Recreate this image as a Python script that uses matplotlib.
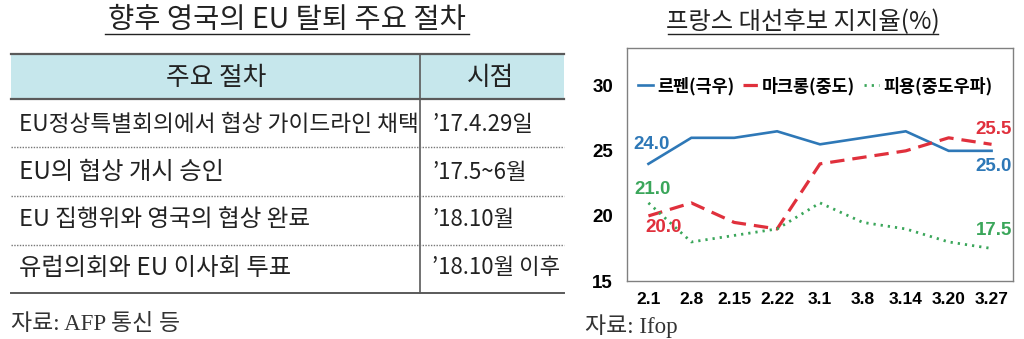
import matplotlib
matplotlib.use("Agg")
import matplotlib.pyplot as plt
from matplotlib.lines import Line2D

plt.rcParams['font.family'] = ['Noto Sans CJK KR', 'DejaVu Sans']

# ---------------- data ----------------
table_title = "향후 영국의 EU 탈퇴 주요 절차"
table_header = ["주요 절차", "시점"]
steps = ["EU정상특별회의에서 협상 가이드라인 채택",
         "EU의 협상 개시 승인",
         "EU 집행위와 영국의 협상 완료",
         "유럽의회와 EU 이사회 투표"]
timing = ["’17.4.29일", "’17.5~6월", "’18.10월", "’18.10월 이후"]
table_source = "자료: AFP 통신 등"

chart_title = "프랑스 대선후보 지지율(%)"
dates = ["2.1", "2.8", "2.15", "2.22", "3.1", "3.8", "3.14", "3.20", "3.27"]
lepen = [24.0, 26.0, 26.0, 26.5, 25.5, 26.0, 26.5, 25.0, 25.0]
macron = [20.0, 21.0, 19.5, 19.0, 24.0, 24.5, 25.0, 26.0, 25.5]
fillon = [21.0, 18.0, 18.5, 19.0, 21.0, 19.5, 19.0, 18.0, 17.5]
series_names = ["르펜(극우)", "마크롱(중도)", "피용(중도우파)"]
yticks = [15, 20, 25, 30]
chart_source = "자료: Ifop"

# ---------------- figure ----------------
W, H = 1024, 339
fig = plt.figure(figsize=(W / 100, H / 100), dpi=100)

def fx(x):
    return x / W

def fy(y):
    return 1 - y / H

def hline(x0, x1, y, **kw):
    fig.add_artist(Line2D([fx(x0), fx(x1)], [fy(y), fy(y)], transform=fig.transFigure, **kw))

def vline(x, y0, y1, **kw):
    fig.add_artist(Line2D([fx(x), fx(x)], [fy(y0), fy(y1)], transform=fig.transFigure, **kw))

txt_color = "#222222"
line_color = "#5a5a5a"

# table title
fig.text(fx(287), fy(20), table_title, ha="center", va="center", fontsize=20.5, color=txt_color)
hline(105, 469, 34, color=txt_color, lw=1.0)

# table
tl, tr, tdiv = 11, 564, 420
fig.add_artist(plt.Rectangle((fx(tl), fy(99)), fx(tr) - fx(tl), fy(54) - fy(99),
                             transform=fig.transFigure, facecolor="#c6e7ec", edgecolor="none"))
hline(tl, tr, 54, color=line_color, lw=1.6)
hline(tl, tr, 99, color=line_color, lw=1.6)
hline(tl, tr, 293, color=line_color, lw=1.4)
vline(tdiv, 54, 293, color=line_color, lw=1.2)
for yy in [147, 196, 245]:
    hline(tl, tr, yy, color="#777777", lw=1.0, linestyle=(0, (1, 1)))

fig.text(fx(216), fy(78), table_header[0], ha="center", va="center", fontsize=18.5, color=txt_color)
fig.text(fx(491), fy(78), table_header[1], ha="center", va="center", fontsize=18.5, color=txt_color)
row_y = [124, 172, 220, 268]
row_fs = [16.3, 17.5, 17.0, 17.5]
for s, t, yy, fs in zip(steps, timing, row_y, row_fs):
    fig.text(fx(19), fy(yy), s, ha="left", va="center", fontsize=fs, color=txt_color)
    fig.text(fx(432), fy(yy), t, ha="left", va="center", fontsize=16, color=txt_color)

fig.text(fx(11), fy(324), table_source, ha="left", va="center", fontsize=16.5, color="#333333",
         family=['Liberation Serif', 'Noto Sans CJK KR'])

# ---------------- chart ----------------
ax = fig.add_axes([fx(627), fy(281), fx(1013) - fx(627), fy(48) - fy(281)])
x = list(range(len(dates)))
c_blue, c_red, c_green = "#2e78b7", "#e0303c", "#3aa65a"
ax.plot(x, lepen, color=c_blue, lw=1.9, solid_joinstyle="miter", label=series_names[0])
ax.plot(x, macron, color=c_red, lw=2.3, linestyle=(0, (4.5, 2.5)), label=series_names[1])
ax.plot(x, fillon, color=c_green, lw=2.0, linestyle=(0, (0.8, 1.8)), label=series_names[2])

ax.set_xlim(-0.5, len(dates) - 0.5)
ax.set_ylim(15, 32.9)
ax.set_yticks(yticks)
ax.set_yticklabels([str(v) for v in yticks], fontsize=13.5, fontweight="bold", family="Liberation Sans")
ax.set_xticks(x)
ax.set_xticklabels(dates, fontsize=12.5, fontweight="bold", family="Liberation Sans")
ax.tick_params(axis="both", length=0)
ax.tick_params(axis="y", pad=10)
ax.tick_params(axis="x", pad=8)
for sp in ax.spines.values():
    sp.set_color("#808080")
    sp.set_linewidth(1.0)

def lab(xi, yv, text, color, dx, dy):
    ax.annotate(text, (xi, yv), xytext=(dx, dy), textcoords="offset points",
                ha="center", va="center", fontsize=13.5, fontweight="bold",
                color=color, family="Liberation Sans")

lab(0, lepen[0], f"{lepen[0]:.1f}", c_blue, 2, 14)
lab(8, lepen[8], f"{lepen[8]:.1f}", c_blue, 1.5, -11)
lab(8, macron[8], f"{macron[8]:.1f}", c_red, 1.5, 10.5)
lab(0, macron[0], f"{macron[0]:.1f}", c_red, 11, -8)
lab(0, fillon[0], f"{fillon[0]:.1f}", c_green, 3, 10)
lab(8, fillon[8], f"{fillon[8]:.1f}", c_green, 1.5, 13)

ax.legend(loc="center left", bbox_to_anchor=(0.01, (30 - 15) / (32.9 - 15)),
          ncol=3, frameon=False, handlelength=0.9, handletextpad=0.2,
          columnspacing=0.5, borderaxespad=0,
          prop={"family": "Noto Sans CJK KR", "weight": "bold", "size": 12.5})

fig.text(fx(803), fy(22), chart_title, ha="center", va="center", fontsize=17.5, color=txt_color)
hline(668, 938, 34, color=txt_color, lw=1.0)

fig.text(fx(585), fy(326), chart_source, ha="left", va="center", fontsize=16.5, color="#333333",
         family=['Liberation Serif', 'Noto Sans CJK KR'])

fig.savefig("out.png", dpi=100)
